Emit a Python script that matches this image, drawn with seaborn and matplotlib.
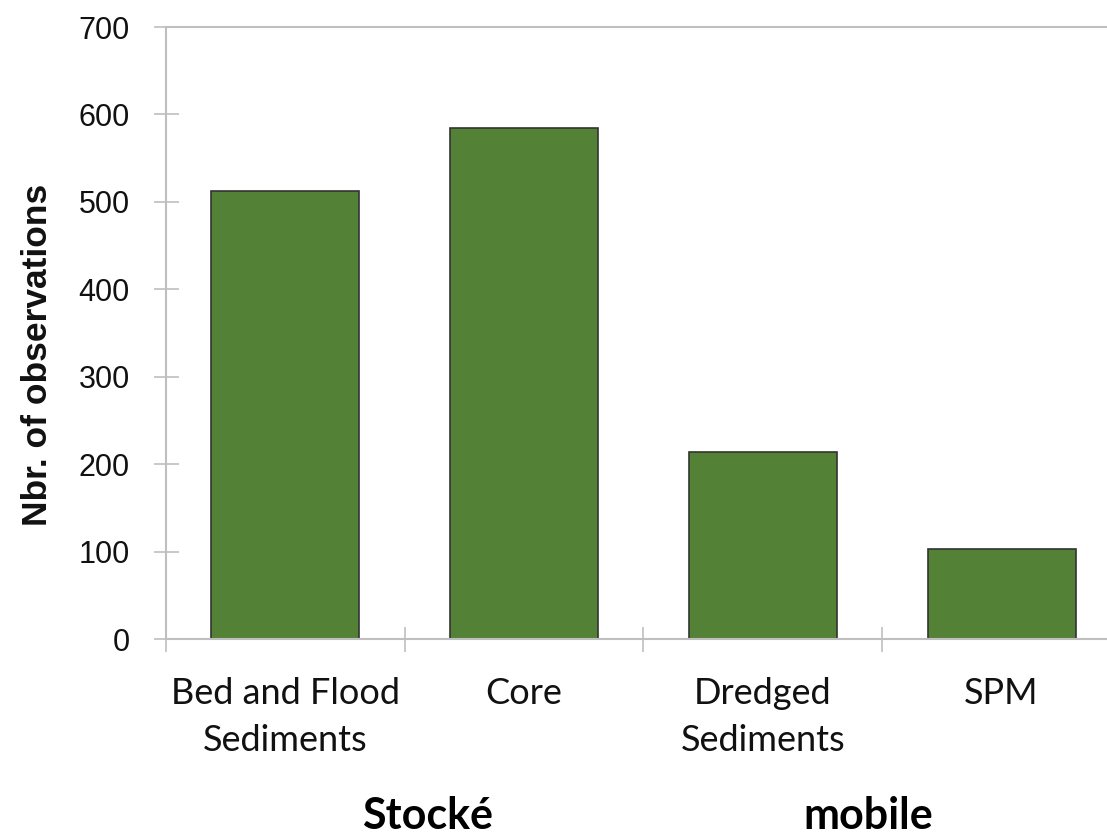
import matplotlib
matplotlib.use("Agg")
import matplotlib.pyplot as plt
import seaborn as sns
import pandas as pd

# data
categories = ["Bed and Flood\nSediments", "Core", "Dredged\nSediments", "SPM"]
observations = [513, 585, 214, 103]
group_labels = ["Stocké", "mobile"]

bar_color = "#538135"
axis_gray = "#bfbfbf"

sns.set_style("white")
plt.rcParams['font.family'] = ['Liberation Sans', 'DejaVu Sans']

df = pd.DataFrame({"category": categories, "n": observations})

fig = plt.figure(figsize=(11.07, 8.36), dpi=100)
ax = fig.add_axes([0.15, 0.2356, 0.8626, 0.7321])

sns.barplot(data=df, x="category", y="n", color=bar_color, width=0.62,
            edgecolor="#333333", linewidth=1.2, saturation=1, ax=ax)

ax.set_ylim(0, 700)
ax.set_xlim(-0.5, len(categories) - 0.5)
ax.set_yticks(range(0, 701, 100))
ax.tick_params(axis='y', left=True, labelsize=22, direction='inout', length=18,
               width=1.2, color=axis_gray, pad=17, labelcolor='#111111')

# category boundaries as tick marks, labels centred under the bars
ax.set_xticks([i - 0.5 for i in range(len(categories) + 1)])
ax.set_xticklabels([])
ax.set_xticks(range(len(categories)), minor=True)
ax.set_xticklabels(categories, minor=True, fontfamily='Lato', fontsize=26,
                   linespacing=1.55, color='#111111')
ax.tick_params(axis='x', which='major', bottom=True, direction='inout',
               length=18, width=1.2, color=axis_gray)
ax.tick_params(axis='x', which='minor', bottom=True, length=0, pad=27)

ax.set_xlabel("")
ax.set_ylabel("Nbr. of observations", fontsize=25.5, fontweight='bold',
              color='#111111')
ax.yaxis.set_label_coords(-0.117, 0.465)

for side in ['left', 'bottom', 'top']:
    ax.spines[side].set_color(axis_gray)
    ax.spines[side].set_linewidth(1.5)
ax.spines['right'].set_visible(False)

fig.text(428 / 1107, 0.008, group_labels[0], ha='center', va='baseline',
         fontfamily='Lato', fontweight='bold', fontsize=31, color='black')
fig.text(868 / 1107, 0.008, group_labels[1], ha='center', va='baseline',
         fontfamily='Lato', fontweight='bold', fontsize=31, color='black')

fig.savefig("out.png", dpi=100)
